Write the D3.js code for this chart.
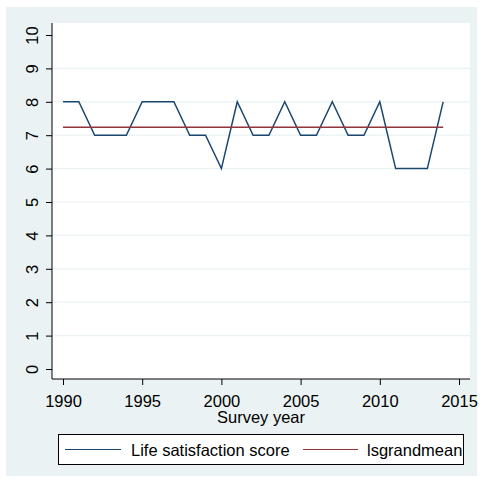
<!DOCTYPE html>
<html>
<meta charset="utf-8">
<style>
body { margin: 0; background: #fff; }
text { font-family: "Liberation Sans", Arial, sans-serif; fill: #000; }
</style>
<body>
</body>
<script src="https://cdn.jsdelivr.net/npm/d3@7"></script>
<script>

var years = [1990, 1991, 1992, 1993, 1994, 1995, 1996, 1997, 1998, 1999, 2000, 2001, 2002,
             2003, 2004, 2005, 2006, 2007, 2008, 2009, 2010, 2011, 2012, 2013, 2014];
var lifeSat = [8, 8, 7, 7, 7, 8, 8, 8, 7, 7, 6, 8, 7, 7, 8, 7, 7, 8, 7, 7, 8, 6, 6, 6, 8];
var grandMean = 7.24;
var xTicks = [1990, 1995, 2000, 2005, 2010, 2015];
var yTicks = [0, 1, 2, 3, 4, 5, 6, 7, 8, 9, 10];
var legendLabels = ["Life satisfaction score", "lsgrandmean"];
var colors = ["#1a476f", "#90353b"];

var width = 483, height = 481;
var fs = "16.5px";

var svg = d3.select("body").append("svg")
    .attr("width", width)
    .attr("height", height);

// outer graph region
svg.append("rect")
    .attr("x", 6).attr("y", 7)
    .attr("width", 471).attr("height", 469)
    .attr("fill", "#eaf2f3");

var plot = { left: 52, right: 470, top: 23, bottom: 379 };

svg.append("rect")
    .attr("x", plot.left).attr("y", plot.top)
    .attr("width", plot.right - plot.left).attr("height", plot.bottom - plot.top)
    .attr("fill", "#fff");

var x = d3.scaleLinear().domain([1990, 2015]).range([63, 459]);
var y = d3.scaleLinear().domain([0, 10]).range([369, 35]);

// grid lines
svg.append("g").selectAll("line")
    .data(yTicks.filter(function (d) { return d > 0 && d < 10; }))
    .enter().append("line")
    .attr("x1", plot.left).attr("x2", plot.right)
    .attr("y1", function (d) { return y(d); })
    .attr("y2", function (d) { return y(d); })
    .attr("stroke", "#eaf2f3")
    .attr("stroke-width", 1.2);

// y axis
var yAxis = svg.append("g")
    .attr("transform", "translate(" + plot.left + ",0)")
    .call(d3.axisLeft(y).tickValues(yTicks).tickSize(6).tickSizeOuter(0).tickFormat(d3.format("d")));
yAxis.select(".domain").attr("d", "M0," + plot.top + "V" + plot.bottom).attr("stroke", "#000");
yAxis.selectAll(".tick line").attr("stroke", "#000");
yAxis.selectAll(".tick text")
    .attr("font-size", fs)
    .attr("font-family", "Liberation Sans, Arial, sans-serif")
    .attr("text-anchor", "middle")
    .attr("x", 0).attr("dy", null).attr("y", 0)
    .attr("transform", "translate(-20,0) rotate(-90)")
    .attr("dominant-baseline", "central");

// x axis
var xAxis = svg.append("g")
    .attr("transform", "translate(0," + plot.bottom + ")")
    .call(d3.axisBottom(x).tickValues(xTicks).tickSize(6).tickSizeOuter(0).tickFormat(d3.format("d")));
xAxis.select(".domain").attr("d", "M" + plot.left + ",0H" + plot.right).attr("stroke", "#000");
xAxis.selectAll(".tick line").attr("stroke", "#000");
xAxis.selectAll(".tick text")
    .attr("font-size", fs)
    .attr("font-family", "Liberation Sans, Arial, sans-serif")
    .attr("y", 27.5).attr("dy", null);

svg.append("text")
    .attr("x", x(2002.5)).attr("y", 423)
    .attr("text-anchor", "middle")
    .attr("font-size", fs)
    .text("Survey year");

// series
var line = d3.line()
    .x(function (d, i) { return x(years[i]); })
    .y(function (d) { return y(d); });

svg.append("path")
    .datum(lifeSat)
    .attr("d", line)
    .attr("fill", "none")
    .attr("stroke", colors[0])
    .attr("stroke-width", 1.5);

svg.append("path")
    .datum(years.map(function () { return grandMean; }))
    .attr("d", line)
    .attr("fill", "none")
    .attr("stroke", colors[1])
    .attr("stroke-width", 1.5);

// legend
var legend = svg.append("g");
legend.append("rect")
    .attr("x", 58.5).attr("y", 434.5)
    .attr("width", 405).attr("height", 30)
    .attr("fill", "#fff").attr("stroke", "#000");

var legendX = [[65, 121, 131], [303, 358, 367]];
legendLabels.forEach(function (lbl, i) {
  legend.append("line")
    .attr("x1", legendX[i][0]).attr("x2", legendX[i][1])
    .attr("y1", 449.5).attr("y2", 449.5)
    .attr("stroke", colors[i]).attr("stroke-width", 1.2);
  legend.append("text")
    .attr("x", legendX[i][2]).attr("y", 455.5)
    .attr("font-size", fs)
    .text(lbl);
});
</script>
</html>
